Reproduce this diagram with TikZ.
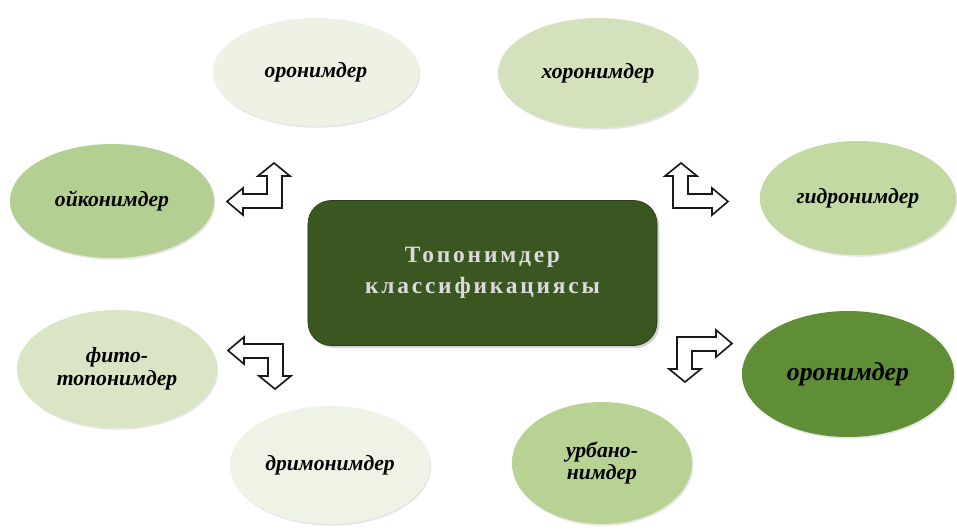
\documentclass[tikz,border=0pt]{standalone}
\usepackage{fontspec}
\setmainfont{Liberation Serif}
\usetikzlibrary{shapes.geometric,shadows}

\definecolor{oronpale}{HTML}{EEF2E4}
\definecolor{choron}{HTML}{D3E2BD}
\definecolor{oikon}{HTML}{B4CF92}
\definecolor{gidron}{HTML}{C2D9A4}
\definecolor{fito}{HTML}{D9E5C5}
\definecolor{orondark}{HTML}{5F8E36}
\definecolor{drimon}{HTML}{EFF3E6}
\definecolor{urban}{HTML}{B8D293}
\definecolor{hubgreen}{HTML}{3A5621}

% soft rim for the bubbles
\colorlet{rimin}{white}
\colorlet{rimout}{gray}
\pgfdeclareradialshading[rimin,rimout]{rim}{\pgfpoint{0bp}{0bp}}{color(0bp)=(rimin); color(42bp)=(rimin); color(50bp)=(rimout); color(100bp)=(rimout)}

\begin{document}
\begin{tikzpicture}[
    x=0.03cm, y=-0.03cm,
    bubble/.style={ellipse, inner sep=0pt, align=center, text=black,
      font=\fontsize{18.5}{19.5}\selectfont\bfseries\itshape,
      /utils/exec={\colorlet{rimin}{#1}\colorlet{rimout}{#1!50!black}},
      shading=rim, drop shadow={opacity=0.2, shadow xshift=1pt, shadow yshift=-1.5pt}},
    hub/.style={rectangle, rounded corners=0.7cm, minimum width=10.47cm, minimum height=4.35cm,
      fill=hubgreen, draw=hubgreen!70!black, line width=0.6pt, align=center, text=white!86!black,
      font=\fontsize{20}{26.5}\selectfont\bfseries\addfontfeature{LetterSpace=12},
      drop shadow={opacity=0.35, shadow xshift=2pt, shadow yshift=-2pt}},
    bendarrow/.style={draw=black!90, fill=white, line width=1.4pt, line join=miter},
    lbend/.pic={\path[bendarrow] (0,0) -- (-39,0) -- (-39,7) -- (-55,-6.5) -- (-39,-20) -- (-39,-14)
      -- (-15,-14) -- (-15,-32) -- (-24,-32) -- (-8,-45) -- (8,-32) -- (0,-32) -- cycle;}
]
\useasboundingbox (0,0) rectangle (957,529);

% Centre block
\node[hub] (hub) at (482.5,273) {Топонимдер\\классификациясы};

% Upper bubbles
\node[bubble=oronpale, minimum width=6.18cm, minimum height=3.24cm] (oron) at (316,72) {оронимдер};
\node[bubble=choron, minimum width=6.0cm, minimum height=3.3cm] (choron) at (598,73) {хоронимдер};
\node[bubble=oikon, minimum width=6.12cm, minimum height=3.42cm] (oikon) at (112,201) {ойконимдер};
\node[bubble=gidron, minimum width=5.88cm, minimum height=3.42cm] (gidron) at (858,198) {гидронимдер};

% Lower bubbles
\node[bubble=fito, minimum width=6.0cm, minimum height=3.54cm] (fito) at (117,369) {фито-\\топонимдер};
\node[bubble=orondark, minimum width=6.36cm, minimum height=3.78cm, font=\fontsize{22}{24}\selectfont\bfseries\itshape] (orondark) at (848,374) {оронимдер};
\node[bubble=drimon, minimum width=6.0cm, minimum height=3.54cm] (drimon) at (330,465) {дримонимдер};
\node[bubble=urban, minimum width=5.4cm, minimum height=3.66cm] (urban) at (602,463) {урбано-\\нимдер};

% Bent block arrows
\pic (bendtl) at (282,208) {lbend};
\pic[xscale=-1] (bendtr) at (673,208) {lbend};
\pic[yscale=-1] (bendbl) at (283,344) {lbend};
\pic[xscale=-1, yscale=-1] (bendbr) at (677,337) {lbend};

\end{tikzpicture}
\end{document}
